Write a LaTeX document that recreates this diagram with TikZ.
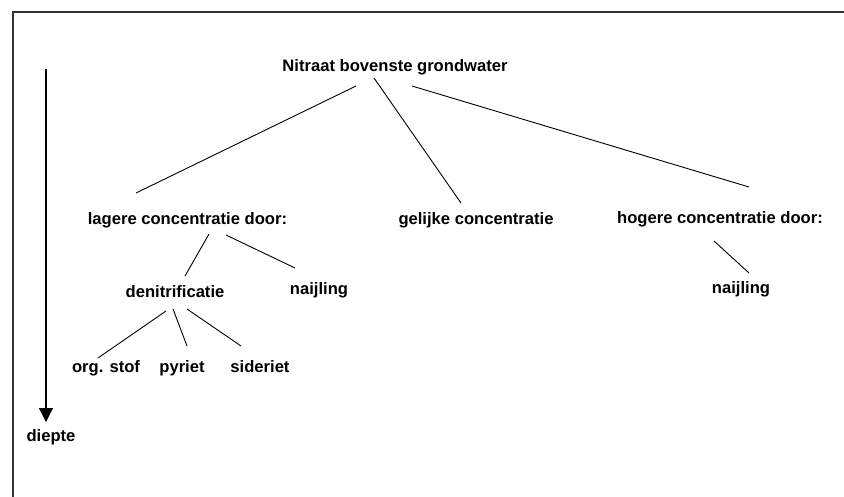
\documentclass[tikz,border=0pt]{standalone}
\usepackage{fontspec}
\setmainfont{Liberation Sans}
\usetikzlibrary{calc,arrows.meta}
\begin{document}
\begin{tikzpicture}[x=1pt,y=-1pt,
  lbl/.style={font=\fontsize{16.6}{18}\selectfont\bfseries, inner sep=0pt},
  conn/.style={line width=0.9pt, black},
  frame/.style={line width=1.2pt, draw=black!80}]
\useasboundingbox (0,0) rectangle (844,496);
\draw[frame] (13,12) rectangle (900,560);

\node[lbl] (t) at (395,67) {Nitraat bovenste grondwater};
\node[lbl] (lag) at (187.5,220) {lagere concentratie door:};
\node[lbl] (gel) at (476,220) {gelijke concentratie};
\node[lbl] (hog) at (720,219) {hogere concentratie door:};
\node[lbl] (den) at (175,292) {denitrificatie};
\node[lbl] (naiL) at (319,290) {naijling};
\node[lbl] (naiR) at (741,289) {naijling};
\node[lbl, anchor=base] (org) at (106,372.5) {org. stof};
\node[lbl, anchor=base] (pyr) at (182,372.5) {pyriet};
\node[lbl, anchor=base] (sid) at (260,372.5) {sideriet};
\node[lbl] (diep) at (51,437) {diepte};

\draw[conn] ($(t)+(-39,19)$) -- ($(lag)+(-51.5,-27)$);
\draw[conn] ($(t)+(-21,11)$) -- ($(gel)+(-15,-17)$);
\draw[conn] ($(t)+(17,19)$) -- ($(hog)+(29,-32)$);
\draw[conn] ($(lag)+(21.5,14)$) -- ($(den)+(10,-16)$);
\draw[conn] ($(lag)+(38.5,15)$) -- ($(naiL)+(-24,-22)$);
\draw[conn] ($(den)+(-9,19)$) -- ($(org.base)+(-8,-14.5)$);
\draw[conn] ($(den)+(-2,17)$) -- ($(pyr.base)+(5,-26.5)$);
\draw[conn] ($(den)+(12,17)$) -- ($(sid.base)+(-19,-26.5)$);
\draw[conn] ($(hog)+(-6,22)$) -- ($(naiR)+(8,-16)$);

\coordinate (a1) at (46,69);
\coordinate (a2) at (46,422);
\draw[line width=1.3pt, -{Triangle[width=14pt,length=14pt]}] (a1) -- (a2);
\end{tikzpicture}
\end{document}
